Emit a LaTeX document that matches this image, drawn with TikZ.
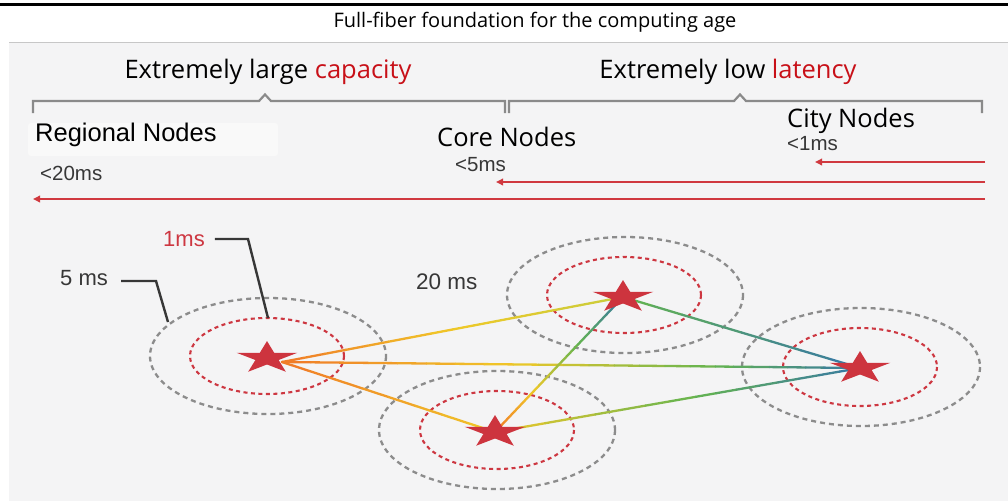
\documentclass[tikz,border=0pt]{standalone}
\usepackage{fontspec}
\setmainfont{Open Sans}
\newfontfamily\arialf{Liberation Sans}
\usetikzlibrary{arrows.meta,calc}
\definecolor{bgg}{RGB}{244,244,245}
\definecolor{redt}{RGB}{200,16,24}
\definecolor{arrowred}{RGB}{208,57,63}
\definecolor{brk}{RGB}{138,138,138}
\definecolor{ring}{RGB}{140,140,140}
\definecolor{ringred}{RGB}{205,55,65}
\definecolor{starred}{RGB}{205,52,62}
\definecolor{gorange}{RGB}{240,120,40}
\definecolor{gyellow}{RGB}{240,200,40}
\definecolor{gylgreen}{RGB}{200,205,60}
\definecolor{ggreen}{RGB}{100,180,80}
\definecolor{gblue}{RGB}{55,120,165}
\definecolor{txtg}{RGB}{55,55,55}
\newcommand\gseg[6]{%
  \foreach \k in {0,...,7}{%
    \pgfmathsetmacro\ta{#3+(#4-#3)*\k/8}%
    \pgfmathsetmacro\tb{#3+(#4-#3)*(\k+1)/8}%
    \pgfmathsetmacro\pc{100-(\k+0.5)*12.5}%
    \draw[fiber, draw={#5!\pc!#6}] ($(#1)!\ta!(#2)$) -- ($(#1)!\tb!(#2)$);
  }}
\newcommand\starat[1]{%
  \fill[starred, shift={(#1)}, yscale=0.53]
    (90:32pt) -- (126:12.2pt) -- (162:32pt) -- (198:12.2pt) -- (234:32pt) --
    (270:12.2pt) -- (306:32pt) -- (342:12.2pt) -- (18:32pt) -- (54:12.2pt) -- cycle;}
\tikzset{
  fiber/.style={line width=2.3pt, line cap=round},
  grayring/.style={draw=ring, line width=2.3pt, dash pattern=on 5pt off 4pt},
  redring/.style={draw=ringred, line width=2.1pt, dash pattern=on 4pt off 3.5pt},
  latarrow/.style={draw=arrowred, line width=2.6pt, -{Triangle[length=7pt,width=6.5pt]}},
  bracket/.style={draw=brk, line width=2.2pt},
  leader/.style={draw=txtg, line width=2.4pt},
  headtxt/.style={font=\fontsize{25.5}{28}\selectfont, inner sep=0pt},
  nodetxt/.style={font=\fontsize{25.5}{28}\selectfont, inner sep=0pt, anchor=west},
  arialtxt/.style={font=\arialf\fontsize{25.5}{28}\selectfont, inner sep=0pt, anchor=west},
  mstxt/.style={font=\arialf\fontsize{20.5}{24}\selectfont, text=txtg, inner sep=0pt, anchor=west},
}
\begin{document}
\begin{tikzpicture}[x=1pt,y=-1pt]
\useasboundingbox (0,0) rectangle (1008,501);
\fill[white] (0,0) rectangle (1008,501);
\fill[bgg] (9,43) rectangle (1008,501);
\draw[black, line width=3pt] (0,4.5) -- (1008,4.5);
\draw[black!22, line width=1.2pt] (9,42.5) -- (1008,42.5);
\node[font=\fontsize{20}{22}\selectfont, inner sep=0pt] (title) at (535,22) {Full-fiber foundation for the computing age};
% headers
\node[headtxt] (hcap) at (268,72) {Extremely large \textcolor{redt}{capacity}};
\node[headtxt] (hlat) at (728,72) {Extremely low \textcolor{redt}{latency}};
\draw[bracket] (33,113) -- (33,101) -- (259,101) -- (265,94.5) -- (271,101) -- (505,101) -- (505,113);
\draw[bracket] (509,113) -- (509,101) -- (734,101) -- (740,94.5) -- (746,101) -- (982,101) -- (982,113);
% node labels
\fill[white!45!bgg, rounded corners=3pt] (28,123) rectangle (278,156);
\node[arialtxt] (reg) at (35,135) {Regional Nodes};
\node[nodetxt] (core) at (437,137) {Core Nodes};
\node[nodetxt] (city) at (787,121) {City Nodes};
\node[mstxt] (l1) at (787,144) {<1ms};
\node[mstxt] (l5) at (455,165) {<5ms};
\node[mstxt] (l20) at (40,173) {<20ms};
% latency arrows
\coordinate (r1) at (985,162); \coordinate (e1) at (815,162);
\coordinate (r2) at (985,182); \coordinate (e2) at (496,182);
\coordinate (r3) at (985,199); \coordinate (e3) at (33,199);
\draw[latarrow] (r1) -- (e1);
\draw[latarrow] (r2) -- (e2);
\draw[latarrow] (r3) -- (e3);
% rings
\coordinate (s1) at (267,358);
\coordinate (s2) at (623,297);
\coordinate (s3) at (495,432);
\coordinate (s4) at (860,368);
\coordinate (p1) at (282,362);
\draw[grayring] (268,356) ellipse [x radius=118, y radius=58];
\draw[redring] (267,356) ellipse [x radius=77, y radius=38];
\draw[grayring] (625,295) ellipse [x radius=118, y radius=58];
\draw[redring] (624,295) ellipse [x radius=77, y radius=38];
\draw[grayring] (497,430) ellipse [x radius=118, y radius=59];
\draw[redring] (497,430) ellipse [x radius=77, y radius=39];
\draw[grayring] (861,367) ellipse [x radius=119, y radius=59];
\draw[redring] (860,367) ellipse [x radius=77, y radius=39];
% fibers
\gseg{p1}{s2}{0}{0.5}{gorange}{gyellow}
\gseg{p1}{s2}{0.5}{1}{gyellow}{gylgreen}
\gseg{p1}{s4}{0}{0.4}{gorange}{gyellow}
\gseg{p1}{s4}{0.4}{0.75}{gyellow}{ggreen}
\gseg{p1}{s4}{0.75}{1}{ggreen}{gblue}
\gseg{p1}{s3}{0}{1}{gorange}{gyellow}
\gseg{s3}{s2}{0}{0.3}{gorange}{gyellow}
\gseg{s3}{s2}{0.3}{0.65}{gyellow}{ggreen}
\gseg{s3}{s2}{0.65}{1}{ggreen}{gblue}
\gseg{s3}{s4}{0}{0.55}{gyellow}{ggreen}
\gseg{s3}{s4}{0.55}{1}{ggreen}{gblue}
\gseg{s2}{s4}{0}{1}{ggreen}{gblue}
% stars
\starat{s1}\starat{s2}\starat{s3}\starat{s4}
% callouts
\node[font=\arialf\fontsize{22}{24}\selectfont, text=txtg, inner sep=0pt, anchor=west] (ms5) at (60,278) {5 ms};
\coordinate (k5) at (156,281); \coordinate (t5) at (168,322);
\draw[leader] (ms5.east) ++(13,3) coordinate (b5) (b5) -- (k5) -- (t5);
\node[font=\arialf\fontsize{22}{24}\selectfont, text=ringred, inner sep=0pt, anchor=west] (ms1) at (163,239) {1ms};
\coordinate (k1) at (248,239); \coordinate (t1) at (268,318);
\draw[leader] (ms1.east) ++(10,0) coordinate (b1) (b1) -- (k1) -- (t1);
\node[font=\arialf\fontsize{22.5}{24}\selectfont, text=txtg, inner sep=0pt, anchor=west] (ms20) at (416,282) {20 ms};
\end{tikzpicture}
\end{document}
